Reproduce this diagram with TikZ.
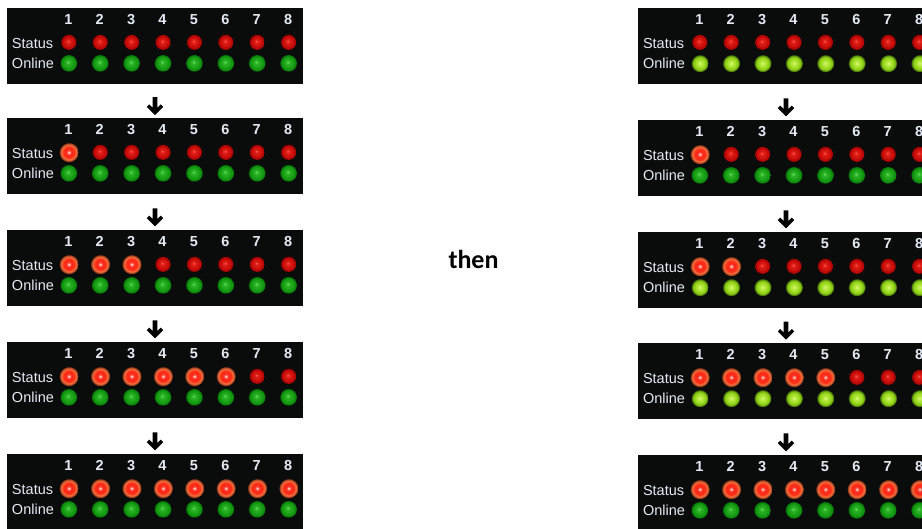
\documentclass[tikz,border=0pt]{standalone}
\usepackage{fontspec}
\setmainfont{Liberation Sans}
\newfontfamily\thenfont{Carlito}
\usetikzlibrary{calc}
\definecolor{panelbg}{RGB}{10,12,12}
\definecolor{labelc}{RGB}{228,234,245}
% red, off
\definecolor{roA}{RGB}{250,95,85}
\definecolor{roB}{RGB}{228,32,24}
\definecolor{roC}{RGB}{200,14,12}
\definecolor{roD}{RGB}{178,6,6}
\definecolor{roE}{RGB}{140,0,0}
\definecolor{roF}{RGB}{90,0,0}
% red, on
\definecolor{rnA}{RGB}{255,255,255}
\definecolor{rnB}{RGB}{255,150,140}
\definecolor{rnC}{RGB}{255,40,22}
\definecolor{rnD}{RGB}{250,45,25}
\definecolor{rnE}{RGB}{242,115,65}
\definecolor{rnF}{RGB}{180,70,32}
\definecolor{rnG}{RGB}{10,12,12}
% green, off
\definecolor{goA}{RGB}{110,225,100}
\definecolor{goB}{RGB}{45,182,40}
\definecolor{goC}{RGB}{25,158,22}
\definecolor{goD}{RGB}{12,138,12}
\definecolor{goE}{RGB}{4,112,4}
\definecolor{goF}{RGB}{0,80,0}
% lime, on
\definecolor{lnA}{RGB}{220,248,140}
\definecolor{lnB}{RGB}{185,235,65}
\definecolor{lnC}{RGB}{150,215,28}
\definecolor{lnD}{RGB}{115,175,14}
\definecolor{lnE}{RGB}{55,90,8}
\definecolor{lnF}{RGB}{10,12,12}
\pgfdeclareradialshading{ledredoff}{\pgfpoint{-3bp}{4bp}}{color(0bp)=(roA); color(5bp)=(roB); color(16bp)=(roC); color(22bp)=(roD); color(25bp)=(roE); color(28bp)=(roF)}
\pgfdeclareradialshading{ledredon}{\pgfpoint{0bp}{0bp}}{color(0bp)=(rnA); color(2.5bp)=(rnB); color(6bp)=(rnC); color(14bp)=(rnD); color(18bp)=(rnE); color(22bp)=(rnF); color(25bp)=(rnG)}
\pgfdeclareradialshading{greenoff}{\pgfpoint{-3bp}{4bp}}{color(0bp)=(goA); color(5bp)=(goB); color(16bp)=(goC); color(22bp)=(goD); color(25bp)=(goE); color(28bp)=(goF)}
\pgfdeclareradialshading{limeon}{\pgfpoint{0bp}{0bp}}{color(0bp)=(lnA); color(5bp)=(lnB); color(15bp)=(lnC); color(20bp)=(lnD); color(23bp)=(lnE); color(25bp)=(lnF)}
\tikzset{
  panel/.style={fill=panelbg, draw=none, inner sep=0pt, minimum width=296pt, minimum height=76pt},
  lbl/.style={anchor=base west, inner sep=0pt, text=labelc, font=\fontsize{14.5}{16}\selectfont},
  num/.style={anchor=base, inner sep=0pt, text=labelc, font=\bfseries\fontsize{14.5}{16}\selectfont},
  thentext/.style={inner sep=0pt, text=black, font=\thenfont\bfseries\fontsize{26}{30}\selectfont},
  bigarrow/.pic={\fill[black] (-2.3,-9) -- (2.3,-9) -- (2.3,1.8) -- (5.8,-1.7) -- (8.2,0.8) -- (0,9) -- (-8.2,0.8) -- (-5.8,-1.7) -- (-2.3,1.8) -- cycle;}
}
% #1 name, #2 centre x, #3 top y, #4 number of lit status LEDs, #5 online shading, #6 online radius
\newcommand\ledpanel[6]{%
  \node[panel] (#1) at (#2,#3+38) {};
  \node[lbl] (#1-status) at ($(#1.north west)+(5,40.3)$) {Status};
  \node[lbl] (#1-online) at ($(#1.north west)+(5,60.3)$) {Online};
  \foreach \i in {1,...,8}{
    \coordinate (#1-c\i) at ($(#1.north west)+(30.6+31.4*\i,0)$);
    \node[num] (#1-n\i) at ($(#1-c\i)+(-0.5,17)$) {\i};
    \ifnum\i>#4
      \shade[shading=ledredoff] ($(#1-c\i)+(0,34.5)$) circle[radius=7.6pt];
    \else
      \shade[shading=ledredon] ($(#1-c\i)+(0,34.5)$) circle[radius=10pt];
    \fi
    \shade[shading=#5] ($(#1-c\i)+(0,55.5)$) circle[radius=#6];
  }%
}
\begin{document}
\begin{tikzpicture}[x=1pt,y=-1pt]
\useasboundingbox (0,0) rectangle (922,529);
\clip (0,0) rectangle (922,529);
\fill[white] (0,0) rectangle (922,529);
% left column
\ledpanel{L1}{155}{8}{0}{greenoff}{8.3pt}
\ledpanel{L2}{155}{118}{1}{greenoff}{8.3pt}
\ledpanel{L3}{155}{230}{3}{greenoff}{8.3pt}
\ledpanel{L4}{155}{342}{6}{greenoff}{8.3pt}
\ledpanel{L5}{155}{454}{8}{greenoff}{8.3pt}
% right column
\ledpanel{R1}{786}{8}{0}{limeon}{9pt}
\ledpanel{R2}{786}{120}{1}{greenoff}{8.3pt}
\ledpanel{R3}{786}{232}{2}{limeon}{9pt}
\ledpanel{R4}{786}{343}{5}{limeon}{9pt}
\ledpanel{R5}{786}{455}{8}{greenoff}{8.3pt}
% arrows
\foreach \a/\b in {L1/L2,L2/L3,L3/L4,L4/L5,R1/R2,R2/R3,R3/R4,R4/R5}{
  \path (\a.south) -- (\b.north) coordinate[pos=0.65] (\a-to-\b);
  \pic at (\a-to-\b) {bigarrow};
}
\node[thentext] (then) at (473.5,259) {then};
\end{tikzpicture}
\end{document}
